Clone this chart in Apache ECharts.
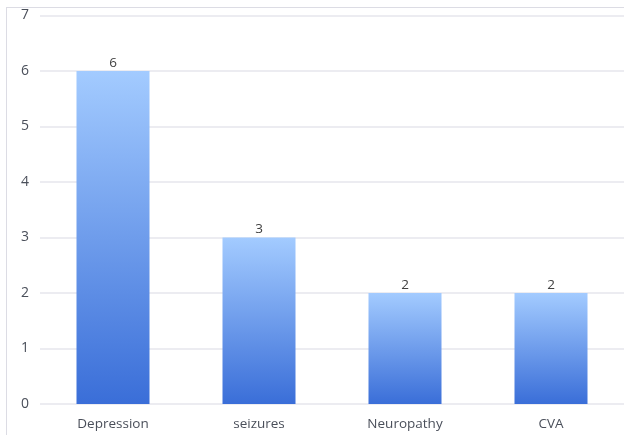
<!DOCTYPE html>
<html><head><meta charset="utf-8">
<script src="https://cdn.jsdelivr.net/npm/echarts@6/dist/echarts.min.js"></script>
<style>html,body{margin:0;padding:0;background:#fff}#frame{position:absolute;left:6px;top:7px;width:640px;height:440px;border:1px solid #dcdce4;box-sizing:border-box}#c{position:absolute;left:0;top:0;width:624px;height:435px}</style>
</head><body><div id="frame"></div><div id="c"></div>
<script>
const categories = ['Depression', 'seizures', 'Neuropathy', 'CVA'];
const values = [6, 3, 2, 2];
const yTicks = [0, 1, 2, 3, 4, 5, 6, 7];

const chart = echarts.init(document.getElementById('c'), null, {renderer: 'canvas'});
chart.setOption({
  animation: false,
  grid: {left: 40, right: 0, top: 15.5, bottom: 31, containLabel: false},
  xAxis: {
    type: 'category', data: categories,
    axisLine: {show: false}, axisTick: {show: false},
    axisLabel: {color: '#4a4f5a', fontFamily: 'Open Sans', fontSize: 13.5, margin: 13}
  },
  yAxis: {
    type: 'value', min: yTicks[0], max: yTicks[yTicks.length - 1], interval: 1,
    axisLine: {show: false}, axisTick: {show: false},
    axisLabel: {color: '#4a4f5a', fontFamily: 'Open Sans', fontSize: 14, margin: 11},
    splitLine: {lineStyle: {color: '#e6e6ec', width: 1.5}}
  },
  series: [{
    type: 'bar', data: values, barWidth: '50%',
    itemStyle: {color: new echarts.graphic.LinearGradient(0, 0, 0, 1, [
      {offset: 0, color: '#a3cbff'}, {offset: 1, color: '#3a6ed8'}
    ])},
    label: {show: true, position: 'top', distance: 1, color: '#404040', fontFamily: 'Open Sans', fontSize: 13.5}
  }]
});
</script></body></html>
